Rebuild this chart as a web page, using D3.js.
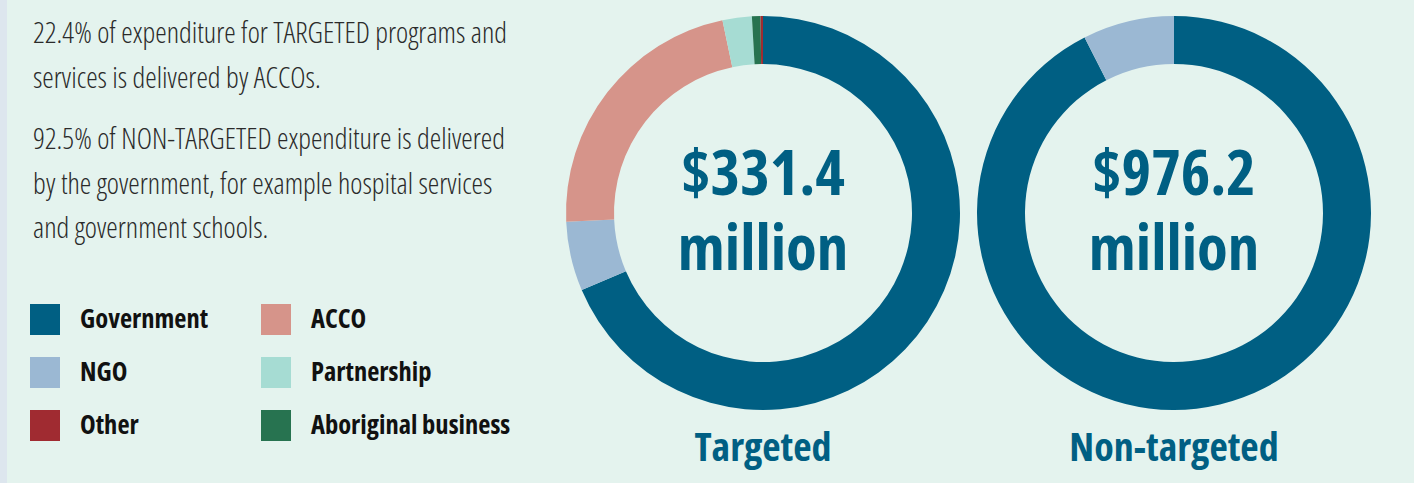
<!DOCTYPE html>
<html>
<head>
<meta charset="utf-8">
<script src="https://cdnjs.cloudflare.com/ajax/libs/d3/7.8.5/d3.min.js"></script>
<style>
  body { margin: 0; background: #e4f3ee; }
  svg text { font-family: "Open Sans", sans-serif; font-stretch: condensed; }
</style>
</head>
<body>
<div id="chart"></div>
<script>
// categories in drawing order (clockwise from 12 o'clock)
var categories = ["Government", "NGO", "ACCO", "Partnership", "Aboriginal business", "Other"];
var colours = ["#005f83", "#9bb8d3", "#d6948a", "#a6dcd3", "#277350", "#a02b31"];

// share of expenditure (%) by delivery organisation
var targetedShare = [68.6, 5.7, 22.4, 2.4, 0.7, 0.2];
var nonTargetedShare = [92.5, 7.5, 0, 0, 0, 0];

var panelTotals = ["$331.4", "$976.2"];
var panelLabels = ["Targeted", "Non-targeted"];

// legend layout: two columns
var legendCols = [["Government", "NGO", "Other"], ["ACCO", "Partnership", "Aboriginal business"]];

var paragraphs = [
    ["22.4% of expenditure for TARGETED programs and", "services is delivered by ACCOs."],
    ["92.5% of NON-TARGETED expenditure is delivered", "by the government, for example hospital services", "and government schools."]
];

var width = 1414, height = 483;
var svg = d3.select("#chart").append("svg").attr("width", width).attr("height", height);

svg.append("rect").attr("width", width).attr("height", height).attr("fill", "#e4f3ee");
svg.append("rect").attr("width", 7).attr("height", height).attr("fill", "#dde6ee");

var colorScale = d3.scaleOrdinal().domain(categories).range(colours);

// intro text
var lineY = 43;
paragraphs.forEach(function (p) {
    p.forEach(function (line) {
        svg.append("text")
            .attr("x", 33).attr("y", lineY)
            .attr("fill", "#2a2a2a")
            .style("font-size", "29px").style("font-weight", 300)
            .text(line);
        lineY += 44.5;
    });
    lineY += 17;
});

// legend
var legend = svg.append("g");
legendCols.forEach(function (col, ci) {
    var g = legend.selectAll(".leg" + ci).data(col).enter().append("g")
        .attr("transform", function (d, i) { return "translate(" + (30 + ci * 231) + "," + (304 + i * 53) + ")"; });
    g.append("rect").attr("width", 30).attr("height", 31).attr("fill", function (d) { return colorScale(d); });
    g.append("text").attr("x", 50).attr("y", 24)
        .attr("fill", "#111")
        .style("font-size", "26.5px").style("font-weight", 700)
        .text(function (d) { return d; });
});

// donuts
var outerR = 197, innerR = 149;
var arc = d3.arc().innerRadius(innerR).outerRadius(outerR);
var pie = d3.pie().sort(null).value(function (d) { return d.value; });

var centres = d3.scalePoint().domain(panelLabels).range([763, 1174]);

[targetedShare, nonTargetedShare].forEach(function (shares, k) {
    var data = categories.map(function (c, i) { return { cat: c, value: shares[i] }; });
    var cx = centres(panelLabels[k]);
    var g = svg.append("g").attr("transform", "translate(" + cx + ",213)");
    g.selectAll("path").data(pie(data)).enter().append("path")
        .attr("d", arc)
        .attr("fill", function (d) { return colorScale(d.data.cat); });

    // total in the hole, two lines in one text
    var t = g.append("text").attr("text-anchor", "middle")
        .attr("fill", "#005f83")
        .style("font-size", "63px").style("font-weight", 700);
    t.append("tspan").attr("x", 0).attr("y", -18).text(panelTotals[k]);
    t.append("tspan").attr("x", 0).attr("y", 57).text("million");

    svg.append("text").attr("text-anchor", "middle")
        .attr("x", cx).attr("y", 461)
        .attr("fill", "#005f83")
        .style("font-size", "40px").style("font-weight", 700)
        .text(panelLabels[k]);
});
</script>
</body>
</html>
